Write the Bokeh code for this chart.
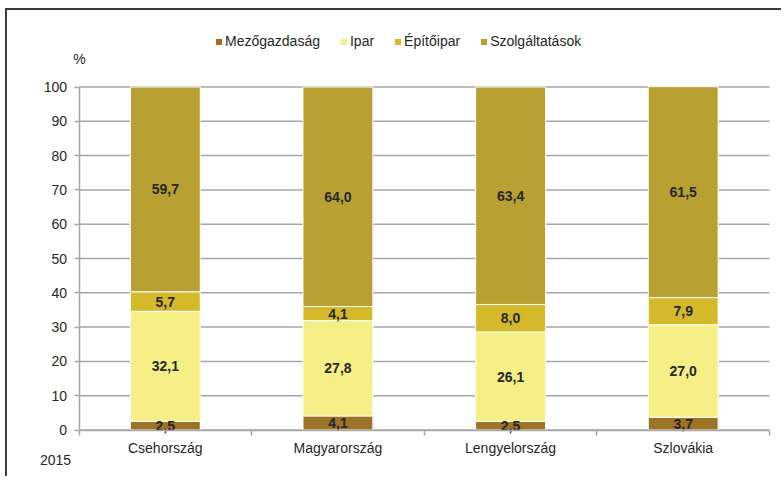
from bokeh.plotting import figure
from bokeh.models import (Range1d, FixedTicker, Legend, LegendItem, Label,
                          ColumnDataSource)
from bokeh.core.properties import value
from bokeh.embed import file_html
from bokeh.resources import INLINE

countries = ["Csehország", "Magyarország", "Lengyelország", "Szlovákia"]
series_names = ["Mezőgazdaság", "Ipar", "Építőipar", "Szolgáltatások"]
mezogazdasag = [2.5, 4.1, 2.5, 3.7]
ipar = [32.1, 27.8, 26.1, 27.0]
epitoipar = [5.7, 4.1, 8.0, 7.9]
szolgaltatasok = [59.7, 64.0, 63.4, 61.5]
colors = ["#9C7327", "#F5EF86", "#D4B92A", "#B9A033"]
y_ticks = [0, 10, 20, 30, 40, 50, 60, 70, 80, 90, 100]
year_label = "2015"
unit_label = "%"

FONT = "Liberation Sans"
TXT = "#262626"
GRID = "#A6A6A6"

# ---- layout geometry (pixels) ----
W, H = 776, 468                 # canvas size
CANVAS_X0, CANVAS_Y0 = 7, 10    # window position of the canvas' top-left corner
PLOT_L, PLOT_R = 78.5, 769.0    # window x of the category area
PLOT_T, PLOT_B = 86.5, 429.5    # window y of 100 % and 0 %
N = len(countries)
px_x = (PLOT_R - PLOT_L) / N
px_y = (PLOT_B - PLOT_T) / 100.0
x_start = -(PLOT_L - CANVAS_X0) / px_x
x_end = N + (CANVAS_X0 + W - PLOT_R) / px_x
y_end = (PLOT_B - CANVAS_Y0) / px_y
y_start = -(CANVAS_Y0 + H - PLOT_B) / px_y


def sx(win_x):
    return win_x - CANVAS_X0


def sy(win_y):
    return CANVAS_Y0 + H - win_y


xc = [i + 0.5 for i in range(N)]
data = {"x": xc, "s0": mezogazdasag, "s1": ipar, "s2": epitoipar, "s3": szolgaltatasok}
src = ColumnDataSource(data)

p = figure(width=W, height=H, output_backend="svg", toolbar_location=None,
           x_range=Range1d(x_start, x_end), y_range=Range1d(y_start, y_end),
           min_border=0)
p.styles = {"margin-left": "5px", "margin-top": "8px",
            "border-left": "2px solid #3c3c3c", "border-top": "2px solid #3c3c3c"}
p.outline_line_color = None
p.background_fill_color = "white"
p.xgrid.grid_line_color = None
p.ygrid.grid_line_color = None

# horizontal gridlines only across the category area
p.segment(x0=0, x1=N, y0=y_ticks, y1=y_ticks, line_color=GRID, line_width=1.5)

renderers = p.vbar_stack(["s0", "s1", "s2", "s3"], x="x", width=0.405, source=src,
                         color=colors, line_color="white", line_width=1)

# value labels
bottoms = [0.0] * N
lx, ly, lt = [], [], []
for vals in [mezogazdasag, ipar, epitoipar, szolgaltatasok]:
    for i, v in enumerate(vals):
        lx.append(xc[i])
        ly.append(bottoms[i] + v / 2)
        lt.append(f"{v:.1f}".replace(".", ","))
        bottoms[i] += v
p.text(x=lx, y=ly, text=lt, text_align="center", text_baseline="middle",
       text_font=value(FONT), text_font_size="14px", text_font_style="bold",
       text_color=TXT)

# x axis: labels at centres, tick marks at category boundaries
p.xaxis.fixed_location = 0
p.xaxis.bounds = (0, N)
p.xaxis.ticker = FixedTicker(ticks=xc, minor_ticks=list(range(N + 1)))
p.xaxis.major_label_overrides = {x: c for x, c in zip(xc, countries)}
p.xaxis.major_tick_line_color = None
p.xaxis.major_tick_out = 0
p.xaxis.major_tick_in = 0
p.xaxis.minor_tick_line_color = GRID
p.xaxis.minor_tick_line_width = 1.5
p.xaxis.minor_tick_out = 5
p.xaxis.minor_tick_in = 0
p.xaxis.axis_line_color = GRID
p.xaxis.axis_line_width = 1.5
p.xaxis.major_label_text_font = FONT
p.xaxis.major_label_text_font_size = "14px"
p.xaxis.major_label_text_color = TXT
p.xaxis.major_label_standoff = 5

p.yaxis.fixed_location = 0
p.yaxis.bounds = (0, 100)
p.yaxis.ticker = FixedTicker(ticks=y_ticks)
p.yaxis.minor_tick_line_color = None
p.yaxis.major_tick_line_color = GRID
p.yaxis.major_tick_line_width = 1.5
p.yaxis.major_tick_out = 5
p.yaxis.major_tick_in = 0
p.yaxis.axis_line_color = GRID
p.yaxis.axis_line_width = 1.5
p.yaxis.major_label_text_font = FONT
p.yaxis.major_label_text_font_size = "14px"
p.yaxis.major_label_text_color = TXT
p.yaxis.major_label_standoff = 7

legend = Legend(items=[LegendItem(label=n, renderers=[r]) for n, r in zip(series_names, renderers)],
                orientation="horizontal", location=(sx(214), sy(49)),
                border_line_color=None, background_fill_alpha=0,
                glyph_width=9, glyph_height=9, label_standoff=2, spacing=19,
                padding=0, margin=0, label_height=16,
                label_text_font=FONT, label_text_font_size="14px",
                label_text_color=TXT)
p.add_layout(legend, "center")

p.add_layout(Label(x=sx(79), y=sy(58.5), x_units="screen", y_units="screen", text=unit_label,
                   text_font=FONT, text_font_size="14px", text_color=TXT,
                   text_align="center", text_baseline="middle"))
p.add_layout(Label(x=sx(55), y=sy(459), x_units="screen", y_units="screen", text=year_label,
                   text_font=FONT, text_font_size="14px", text_color=TXT,
                   text_align="center", text_baseline="middle"))

open("out.html", "w").write(file_html(p, INLINE))
